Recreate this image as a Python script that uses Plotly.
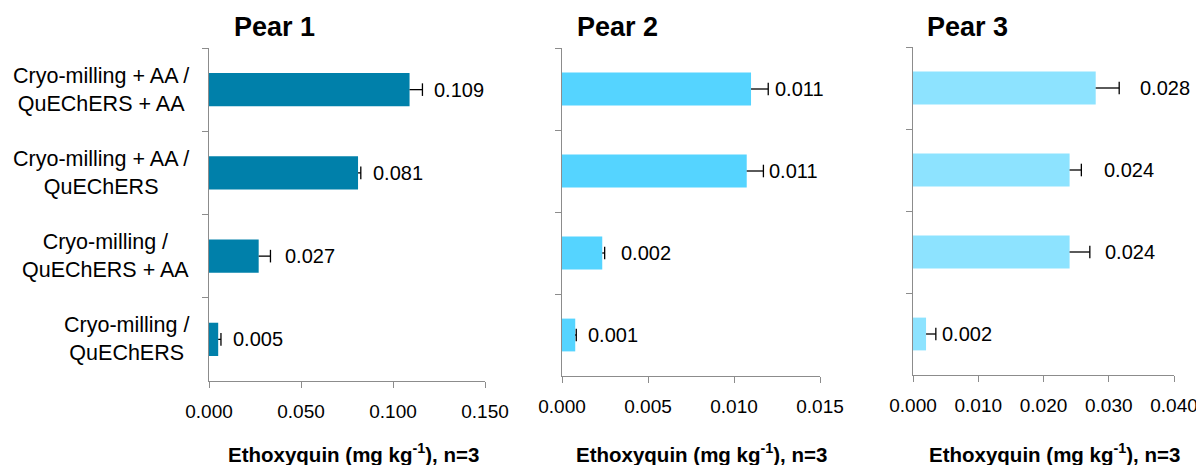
import plotly.graph_objects as go

# The page body adds an 8px margin; the figure is sized so it fits the window.
OFF = 8
W, H = 1204 - OFF, 465 - OFF

categories = [
    "Cryo-milling + AA /<br>QuEChERS + AA",
    "Cryo-milling + AA /<br>QuEChERS",
    "Cryo-milling /<br>QuEChERS + AA",
    "Cryo-milling /<br>QuEChERS",
]
titles = ["Pear 1", "Pear 2", "Pear 3"]

pear1_values = [0.109, 0.081, 0.027, 0.005]
pear1_errors = [0.007, 0.0015, 0.0064, 0.0015]
pear1_labels = ["0.109", "0.081", "0.027", "0.005"]

pear2_values = [0.01099, 0.01074, 0.00234, 0.00077]
pear2_errors = [0.001, 0.00097, 0.00014, 0.00006]
pear2_labels = ["0.011", "0.011", "0.002", "0.001"]

pear3_values = [0.0280, 0.0240, 0.0240, 0.0020]
pear3_errors = [0.0036, 0.0018, 0.0031, 0.0015]
pear3_labels = ["0.028", "0.024", "0.024", "0.002"]

x_max = [0.150, 0.015, 0.040]
x_dtick = [0.050, 0.005, 0.010]

# styles / layout (pixels in the 1204x465 window)
colors = ["#0080AA", "#55D4FF", "#8DE3FF"]
dom_px = [(209, 485, 48, 381), (562, 820, 48, 376), (913, 1174, 47, 375)]
label_gap = [[10, 10, 13, 10], [5, 4, 14, 10], [19, 21, 13, 4]]
title_pos = [(274, "center"), (575, "left"), (925, "left")]
xtitle_center = [354, 701, 1054]
axis_gray = "#8C8C8C"
FONT = "Liberation Sans, Arial, sans-serif"


def px_x(X):
    return (X - OFF) / W


def px_y(Y):
    return 1 - (Y - OFF) / H


values = [pear1_values, pear2_values, pear3_values]
errors = [pear1_errors, pear2_errors, pear3_errors]
labels = [pear1_labels, pear2_labels, pear3_labels]

fig = go.Figure()
annotations = []

for i in range(3):
    xa = "x" if i == 0 else f"x{i+1}"
    ya = "y" if i == 0 else f"y{i+1}"
    v, e = values[i], errors[i]
    fig.add_trace(go.Bar(
        x=v, y=categories, orientation="h", xaxis=xa, yaxis=ya,
        marker=dict(color=colors[i], line=dict(width=0)), width=0.4,
        showlegend=False, hoverinfo="skip",
    ))
    # one-sided error bars: line from value to value+err, cap at end
    ex, ey = [], []
    for vv, ee, c in zip(v, e, categories):
        ex += [vv, vv + ee, None]
        ey += [c, c, None]
    fig.add_trace(go.Scatter(
        x=ex, y=ey, mode="lines", xaxis=xa, yaxis=ya,
        line=dict(color="black", width=1.3), showlegend=False, hoverinfo="skip",
    ))
    fig.add_trace(go.Scatter(
        x=[vv + ee for vv, ee in zip(v, e)], y=categories, mode="markers",
        xaxis=xa, yaxis=ya,
        marker=dict(symbol="line-ns", size=9, line=dict(color="black", width=1.3)),
        showlegend=False, hoverinfo="skip",
    ))
    for vv, ee, c, t, g in zip(v, e, categories, labels[i], label_gap[i]):
        annotations.append(dict(
            x=vv + ee, y=c, xref=xa, yref=ya, text=t, showarrow=False,
            xanchor="left", yanchor="middle", xshift=g,
            font=dict(family=FONT, size=20, color="black"),
        ))
    x0, x1, yt, yb = dom_px[i]
    fig.layout[f"xaxis{'' if i == 0 else i+1}"] = dict(
        domain=[px_x(x0), px_x(x1)], anchor=ya, range=[0, x_max[i]],
        dtick=x_dtick[i], tick0=0, tickformat=".3f",
        showline=True, linecolor=axis_gray, linewidth=1.3,
        ticks="outside", ticklen=6, tickcolor=axis_gray, tickwidth=1.3,
        showgrid=False, zeroline=False, automargin=False,
        tickfont=dict(family=FONT, size=19, color="black"),
        ticklabelstandoff=7,
    )
    fig.layout[f"yaxis{'' if i == 0 else i+1}"] = dict(
        domain=[px_y(yb), px_y(yt)], anchor=xa,
        categoryorder="array", categoryarray=categories, autorange="reversed",
        showline=True, linecolor=axis_gray, linewidth=1.3,
        ticks="outside", ticklen=6, tickcolor=axis_gray, tickwidth=1.3,
        tickson="boundaries", showticklabels=False, automargin=False,
        showgrid=False, zeroline=False,
    )
    tx, anc = title_pos[i]
    annotations.append(dict(
        x=px_x(tx), y=px_y(27), xref="paper", yref="paper", text=f"<b>{titles[i]}</b>",
        showarrow=False, xanchor=anc, yanchor="middle",
        font=dict(family=FONT, size=27, color="black"),
    ))
    annotations.append(dict(
        x=px_x(xtitle_center[i]), y=px_y(453), xref="paper", yref="paper",
        text="<b>Ethoxyquin (mg kg<sup>-1</sup>), n=3</b>",
        showarrow=False, xanchor="center", yanchor="middle",
        font=dict(family=FONT, size=20.5, color="black"),
    ))

for c in categories:
    annotations.append(dict(
        x=px_x(191), y=c, xref="paper", yref="y", text=c, showarrow=False,
        xanchor="right", yanchor="middle", align="center",
        font=dict(family=FONT, size=21.5, color="black"),
    ))

fig.update_layout(
    width=W, height=H, margin=dict(l=0, r=0, t=0, b=0, pad=0, autoexpand=False),
    paper_bgcolor="white", plot_bgcolor="white",
    annotations=annotations, bargap=0.6,
)

fig.write_html("out.html")
